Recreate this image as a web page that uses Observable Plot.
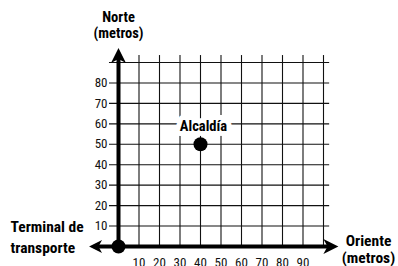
<!DOCTYPE html>
<html>
<head>
<meta charset="utf-8">
<script src="https://cdn.jsdelivr.net/npm/d3@7"></script>
<script src="https://cdn.jsdelivr.net/npm/@observablehq/plot@0.6"></script>
<style>
  body { margin: 0; background: #fff; }
  svg { display: block; }
</style>
</head>
<body>
<div id="chart"></div>
<script>
const gridX = [10, 20, 30, 40, 50, 60, 70, 80, 90, 100];
const gridY = [10, 20, 30, 40, 50, 60, 70, 80, 90];
const xTickLabels = [10, 20, 30, 40, 50, 60, 70, 80, 90];
const yTickLabels = [10, 20, 30, 40, 50, 60, 70, 80];
const places = [
  {name: "Terminal de transporte", x: 0, y: 0},
  {name: "Alcaldía", x: 40, y: 50}
];
const labelPlaces = ["Alcaldía"];

const FONT = "'Roboto Condensed', 'Roboto', sans-serif";

// notched arrowhead symbol pointing up
const arrowSymbol = {
  draw(ctx, size) {
    const r = Math.sqrt(size / Math.PI);
    ctx.moveTo(0, -r);
    ctx.lineTo(r, r);
    ctx.lineTo(0, r * 0.45);
    ctx.lineTo(-r, r);
    ctx.closePath();
  }
};

const chart = Plot.plot({
  width: 398,
  height: 266,
  marginLeft: 118,
  marginRight: 75,
  marginTop: 62,
  marginBottom: 20,
  x: {domain: [0, 100], axis: null},
  y: {domain: [0, 90], axis: null},
  style: {fontFamily: FONT, fontStretch: "condensed", background: "#fff", overflow: "visible"},
  marks: [
    // grid: vertical lines
    Plot.ruleX(gridX, {x: d => d, y1: 0, y2: 93.4, stroke: "#111", strokeWidth: 1.1}),
    // grid: horizontal lines with tick stubs left of the axis
    Plot.ruleY(gridY, {y: d => d, x1: -4.4, x2: 103, stroke: "#111", strokeWidth: 1.1}),
    // y axis tick labels
    Plot.text(yTickLabels, {x: 0, y: d => d, text: d => String(d), textAnchor: "end", dx: -11, fontSize: 13, fill: "#111"}),
    // x axis tick labels
    Plot.text(xTickLabels, {x: d => d, y: 0, text: d => String(d), dy: 16, fontSize: 13, fill: "#111"}),
    // axes (thick)
    Plot.ruleX([0], {x: 0, y1: 0, y2: 93, stroke: "#000", strokeWidth: 4}),
    Plot.ruleY([0], {y: 0, x1: -11, x2: 103, stroke: "#000", strokeWidth: 4}),
    // arrowheads
    Plot.dot([0], {x: 0, y: 93.4, r: 7.5, symbol: arrowSymbol, fill: "#000", stroke: "none"}),
    Plot.dot([0], {x: 103.6, y: 0, r: 7.5, symbol: arrowSymbol, rotate: 90, fill: "#000", stroke: "none"}),
    Plot.dot([0], {x: -11.2, y: 0, r: 6.5, symbol: arrowSymbol, rotate: -90, fill: "#000", stroke: "none"}),
    // place label with white knock-out
    Plot.text(places.filter(d => labelPlaces.includes(d.name)), {x: "x", y: "y", text: "name", dx: 3, dy: -18, fontSize: 14.5, fontWeight: "bold", fill: "#000", stroke: "#fff", strokeWidth: 10}),
    // place dots
    Plot.dot(places, {x: "x", y: "y", r: 7, fill: "#000", stroke: "none"}),
    // axis titles
    Plot.text(["Norte\n(metros)"], {x: 0, y: 90, text: d => d, lineAnchor: "bottom", dy: -25, lineHeight: 1.08, fontSize: 14.5, fontWeight: "bold", fill: "#000"}),
    Plot.text(["Oriente\n(metros)"], {x: 100, y: 0, text: d => d, lineAnchor: "bottom", textAnchor: "middle", dx: 45, dy: 16, lineHeight: 1.07, fontSize: 15.5, fontWeight: "bold", fill: "#000"}),
    Plot.text(["Terminal de\ntransporte"], {x: 0, y: 0, text: d => d, lineAnchor: "bottom", textAnchor: "start", dx: -108, dy: 6, lineHeight: 1.33, fontSize: 15.5, fontWeight: "bold", fill: "#000"})
  ]
});
document.getElementById("chart").appendChild(chart);
</script>
</body>
</html>
